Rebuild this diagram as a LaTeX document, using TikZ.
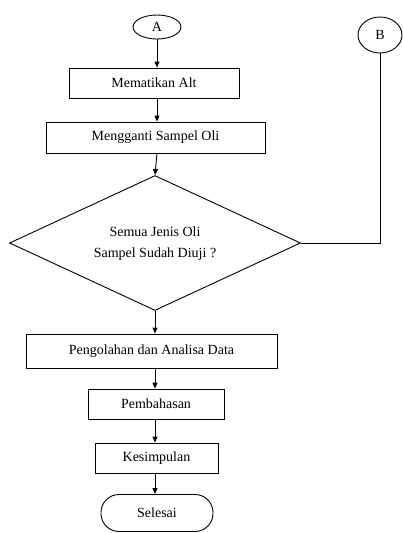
\documentclass[tikz,border=0pt]{standalone}
\usepackage{fontspec}
\setmainfont{Liberation Serif}
\usetikzlibrary{shapes.geometric,arrows.meta}
\begin{document}
\begin{tikzpicture}[x=1pt,y=-1pt,
  every node/.style={font=\fontsize{14}{21}\selectfont, inner sep=0pt},
  procbox/.style={draw, line width=0.9pt, rectangle, align=center},
  connector/.style={draw, line width=0.9pt, ellipse},
  decision/.style={draw, line width=0.9pt, diamond, align=center},
  terminal/.style={draw, line width=0.9pt, rectangle, rounded corners=18pt},
  flow/.style={line width=0.9pt, -{Triangle[length=6pt,width=5pt]}},
  link/.style={line width=0.9pt}]
\useasboundingbox (0,0) rectangle (403,533);

\node[connector, minimum width=48pt, minimum height=24pt] (a) at (157,27) {A};
\node[connector, minimum width=44pt, minimum height=36pt] (b) at (380,35) {B};
\node[procbox, minimum width=170pt, minimum height=30pt] (alt) at (154,83) {Mematikan Alt};
\node[procbox, minimum width=219pt, minimum height=31pt] (ganti) at (155.5,137.5) {Mengganti Sampel Oli};
\node[decision, minimum width=291pt, minimum height=135pt] (uji) at (155,243) {};
\node (ujitext) at (155,244) [align=center] {Semua Jenis Oli\\Sampel Sudah Diuji ?};
\node[procbox, minimum width=251pt, minimum height=34pt] (olah) at (151.5,351) {Pengolahan dan Analisa Data};
\node[procbox, minimum width=136pt, minimum height=30pt] (bahas) at (156,404) {Pembahasan};
\node[procbox, minimum width=123pt, minimum height=30pt] (simpul) at (156.5,458) {Kesimpulan};
\node[terminal, minimum width=112pt, minimum height=37pt] (selesai) at (157,513) {Selesai};

\draw[flow] (a.south) -- (a.south |- alt.north);
\draw[flow] (a.south |- alt.south) -- (a.south |- ganti.north);
\draw[flow] (a.south |- ganti.south) -- (uji.north);
\draw[flow] (uji.south) -- (uji.south |- olah.north);
\draw[flow] (uji.south |- olah.south) -- (uji.south |- bahas.north);
\draw[flow] (uji.south |- bahas.south) -- (uji.south |- simpul.north);
\draw[flow] (uji.south |- simpul.south) -- (uji.south |- selesai.north);
\draw[link] (b.south) |- (uji.east);
\end{tikzpicture}
\end{document}
